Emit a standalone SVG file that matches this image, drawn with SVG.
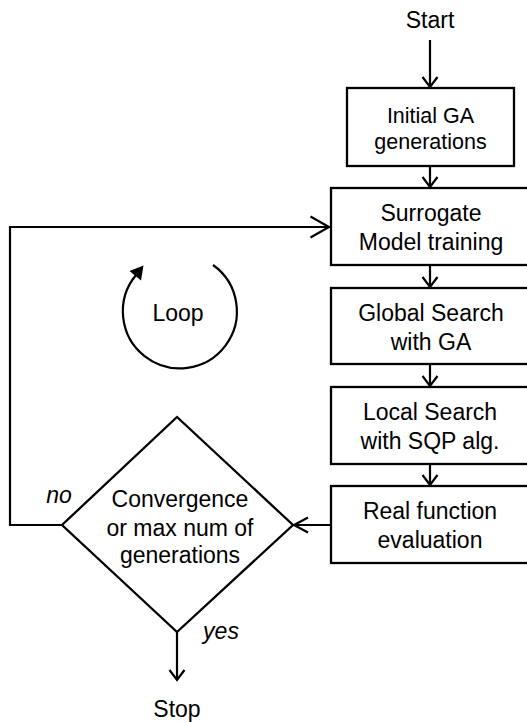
<svg xmlns="http://www.w3.org/2000/svg" width="527" height="722" viewBox="0 0 527 722">
<style>
.box{fill:#fff;stroke:#000;stroke-width:2.3}
.t{font-family:"Liberation Sans",Arial,sans-serif;font-size:23px;text-anchor:middle;fill:#000}
.s{font-size:21.5px}
.i{font-style:italic}
.c{fill:none;stroke:#000;stroke-width:2.2}
</style>
<defs>
<marker id="aS" markerUnits="userSpaceOnUse" markerWidth="30" markerHeight="30" refX="15" refY="15" orient="auto" overflow="visible">
<path d="M5,7.5 L15,15 L5,22.5" fill="none" stroke="#000" stroke-width="2.2"/>
</marker>
<marker id="aM" markerUnits="userSpaceOnUse" markerWidth="30" markerHeight="30" refX="15" refY="15" orient="auto" overflow="visible">
<path d="M1,7.5 L15,15 L1,22.5" fill="none" stroke="#000" stroke-width="2.2"/>
</marker>
<marker id="aL" markerUnits="userSpaceOnUse" markerWidth="30" markerHeight="30" refX="20" refY="15" orient="auto" overflow="visible">
<path d="M1.5,4.5 L20,15 L1.5,25.5" fill="none" stroke="#000" stroke-width="2.2"/>
</marker>
</defs>
<rect width="527" height="722" fill="#fff"/>
<g id="connectors">
<line class="c" x1="430" y1="40" x2="430" y2="87" marker-end="url(#aS)"/>
<line class="c" x1="430" y1="166" x2="430" y2="187" marker-end="url(#aS)"/>
<line class="c" x1="430" y1="265" x2="430" y2="287" marker-end="url(#aS)"/>
<line class="c" x1="430" y1="364" x2="430" y2="386" marker-end="url(#aS)"/>
<line class="c" x1="430" y1="464" x2="430" y2="485" marker-end="url(#aS)"/>
<line class="c" x1="331" y1="525" x2="294" y2="525" marker-end="url(#aM)"/>
<polyline class="c" points="62,525 10,525 10,227 329,227" marker-end="url(#aL)"/>
<line class="c" x1="177" y1="632" x2="177" y2="680" marker-end="url(#aS)"/>
</g>
<g id="start"><text class="t" x="430" y="28">Start</text></g>
<g id="initial">
<rect class="box" x="347" y="88" width="167" height="78"/>
<text class="t s" x="430.5" y="123">Initial GA</text>
<text class="t s" x="430.5" y="149">generations</text>
</g>
<g id="surrogate">
<rect class="box" x="331" y="188" width="210" height="77"/>
<text class="t" x="431" y="221">Surrogate</text>
<text class="t" x="431" y="250">Model training</text>
</g>
<g id="global">
<rect class="box" x="331" y="288" width="210" height="76"/>
<text class="t" x="431" y="321">Global Search</text>
<text class="t" x="431" y="350">with GA</text>
</g>
<g id="local">
<rect class="box" x="331" y="387" width="210" height="77"/>
<text class="t" x="430" y="420">Local Search</text>
<text class="t" x="430" y="449">with SQP alg.</text>
</g>
<g id="real">
<rect class="box" x="331" y="486" width="210" height="77"/>
<text class="t" x="430" y="519">Real function</text>
<text class="t" x="430" y="548">evaluation</text>
</g>
<g id="decision">
<polygon class="box" points="177,417 293,525 177,632 62,525"/>
<text class="t" x="180" y="507">Convergence</text>
<text class="t" x="180" y="536">or max num of</text>
<text class="t" x="180" y="563">generations</text>
</g>
<g id="labels">
<text class="t i" x="59" y="503">no</text>
<text class="t i" x="221" y="639">yes</text>
</g>
<g id="stop"><text class="t" x="177" y="717">Stop</text></g>
<g id="loop">
<path class="c" d="M213,265 A57,57 0 1 1 136,275"/>
<polygon points="143.5,265.5 129.5,271 141,280.5" fill="#000"/>
<text class="t" x="178" y="321">Loop</text>
</g>
</svg>
